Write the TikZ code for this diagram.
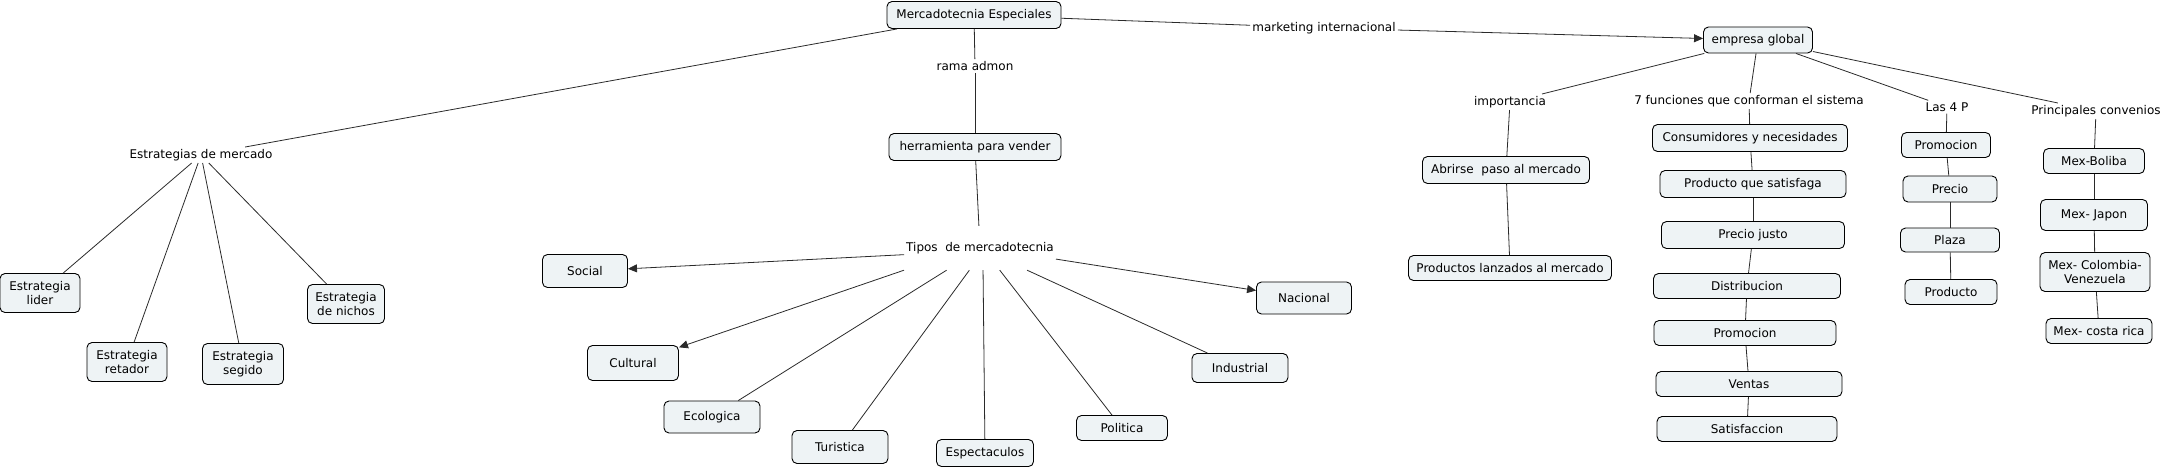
\documentclass[tikz,border=0pt]{standalone}
\usepackage{fontspec}
\setmainfont{DejaVu Sans}
\usetikzlibrary{positioning, calc, shapes, arrows.meta}

\definecolor{cajafondo}{HTML}{EEF3F5}
\definecolor{linea}{HTML}{2A2A2A}

\tikzset{
    concepto/.style={draw=black, fill=cajafondo, rounded corners=5pt, line width=0.9pt,
        inner sep=2pt, align=center, text=black},
    enlace/.style={inner sep=2pt, align=center, text=black},
    rama/.style={draw=linea, line width=0.8pt},
    flecha/.style={draw=linea, line width=0.8pt, -{Triangle[length=9pt,width=8pt]}}
}

\begin{document}
\begin{tikzpicture}[x=1pt, y=-1pt, font=\fontsize{12}{14.3}\selectfont]
    \useasboundingbox (0,0) rectangle (2171,469);

    %% centro
    \node[concepto, minimum width=174pt, minimum height=27pt] (mercEsp) at (974,15) {Mercadotecnia Especiales};

    %% estrategias
    \node[enlace] (estrMerc) at (201,155) {Estrategias de mercado};
    \node[concepto, minimum width=80pt, minimum height=39pt] (lider) at (40,293) {Estrategia\\lider};
    \node[concepto, minimum width=80pt, minimum height=39pt] (retador) at (127,362) {Estrategia\\retador};
    \node[concepto, minimum width=81pt, minimum height=41pt] (segido) at (243,364) {Estrategia\\segido};
    \node[concepto, minimum width=77pt, minimum height=39pt] (nichos) at (346,304) {Estrategia\\de nichos};

    %% tipos
    \node[enlace] (ramaAdmon) at (975,66) {rama admon};
    \node[concepto, minimum width=172pt, minimum height=27pt] (herramienta) at (975,147) {herramienta para vender};
    \node[enlace, minimum width=150pt, minimum height=44pt] (tipos) at (980,248) {Tipos\ \ de mercadotecnia};
    \node[concepto, minimum width=85pt, minimum height=33pt] (social) at (585,271) {Social};
    \node[concepto, minimum width=91pt, minimum height=35pt] (cultural) at (633,363) {Cultural};
    \node[concepto, minimum width=96pt, minimum height=32pt] (ecologica) at (712,417) {Ecologica};
    \node[concepto, minimum width=96pt, minimum height=33pt] (turistica) at (840,447) {Turistica};
    \node[concepto, minimum width=97pt, minimum height=27pt] (espectaculos) at (985,453) {Espectaculos};
    \node[concepto, minimum width=91pt, minimum height=25pt] (politica) at (1122,428) {Politica};
    \node[concepto, minimum width=96pt, minimum height=29pt] (industrial) at (1240,368) {Industrial};
    \node[concepto, minimum width=95pt, minimum height=32pt] (nacional) at (1304,298) {Nacional};

    %% empresa global
    \node[enlace] (markInt) at (1324,28) {marketing internacional};
    \node[concepto, minimum width=109pt, minimum height=26pt] (empresa) at (1758,40) {empresa global};

    \node[enlace] (importancia) at (1510,102) {importancia};
    \node[concepto, minimum width=167pt, minimum height=27pt] (abrirse) at (1506,170) {Abrirse\ \ paso al mercado};
    \node[concepto, minimum width=203pt, minimum height=25pt] (lanzados) at (1510,268) {Productos lanzados al mercado};

    \node[enlace] (funciones) at (1749,101) {7 funciones que conforman el sistema};
    \node[concepto, minimum width=195pt, minimum height=27pt] (consumidores) at (1750,138) {Consumidores y necesidades};
    \node[concepto, minimum width=186pt, minimum height=27pt] (satisfaga) at (1753,184) {Producto que satisfaga};
    \node[concepto, minimum width=183pt, minimum height=27pt] (precioJusto) at (1753,235) {Precio justo};
    \node[concepto, minimum width=187pt, minimum height=25pt] (distribucion) at (1747,286) {Distribucion};
    \node[concepto, minimum width=182pt, minimum height=25pt] (promocion) at (1745,333) {Promocion};
    \node[concepto, minimum width=186pt, minimum height=25pt] (ventas) at (1749,384) {Ventas};
    \node[concepto, minimum width=180pt, minimum height=25pt] (satisfaccion) at (1747,429) {Satisfaccion};

    \node[enlace] (cuatroP) at (1947,107) {Las 4 P};
    \node[concepto, minimum width=89pt, minimum height=25pt] (promoP) at (1946,145) {Promocion};
    \node[concepto, minimum width=94pt, minimum height=26pt] (precioP) at (1950,189) {Precio};
    \node[concepto, minimum width=99pt, minimum height=24pt] (plazaP) at (1950,240) {Plaza};
    \node[concepto, minimum width=92pt, minimum height=25pt] (productoP) at (1951,292) {Producto};

    \node[enlace] (convenios) at (2096,111) {Principales convenios};
    \node[concepto, minimum width=101pt, minimum height=25pt] (boliba) at (2094,161) {Mex-Boliba};
    \node[concepto, minimum width=107pt, minimum height=31pt] (japon) at (2094,215) {Mex- Japon};
    \node[concepto, minimum width=110pt, minimum height=39pt] (colombia) at (2095,272) {Mex- Colombia-\\Venezuela};
    \node[concepto, minimum width=106pt, minimum height=25pt] (costaRica) at (2099,331) {Mex- costa rica};

    %% conexiones
    \draw[rama] (mercEsp) -- (estrMerc);
    \draw[rama] (estrMerc) -- (lider);
    \draw[rama] (estrMerc) -- (retador);
    \draw[rama] (estrMerc) -- (segido);
    \draw[rama] (estrMerc) -- (nichos);

    \draw[rama] (mercEsp) -- (ramaAdmon);
    \draw[rama] (ramaAdmon) -- (herramienta);
    \draw[rama] (herramienta) -- (tipos);
    \draw[flecha] ($(tipos.west)!0.3!(tipos.south west)$) -- (social);
    \draw[flecha] (tipos.south west) -- (cultural);
    \draw[rama] ($(tipos.south west)!0.28!(tipos.south east)$) -- (ecologica);
    \draw[rama] ($(tipos.south west)!0.43!(tipos.south east)$) -- (turistica);
    \draw[rama] ($(tipos.south west)!0.52!(tipos.south east)$) -- (espectaculos);
    \draw[rama] ($(tipos.south west)!0.63!(tipos.south east)$) -- (politica);
    \draw[rama] ($(tipos.south west)!0.81!(tipos.south east)$) -- (industrial);
    \draw[flecha] ($(tipos.east)!0.5!(tipos.south east)$) -- (nacional);

    \draw[rama] (mercEsp) -- (markInt);
    \draw[flecha] (markInt) -- (empresa);

    \draw[rama] (empresa) -- (importancia);
    \draw[rama] (importancia) -- (abrirse);
    \draw[rama] (abrirse) -- (lanzados);

    \draw[rama] (empresa) -- (funciones);
    \draw[rama] (funciones) -- (consumidores);
    \draw[rama] (consumidores) -- (satisfaga);
    \draw[rama] (satisfaga) -- (precioJusto);
    \draw[rama] (precioJusto) -- (distribucion);
    \draw[rama] (distribucion) -- (promocion);
    \draw[rama] (promocion) -- (ventas);
    \draw[rama] (ventas) -- (satisfaccion);

    \draw[rama] (empresa) -- (cuatroP);
    \draw[rama] (cuatroP) -- (promoP);
    \draw[rama] (promoP) -- (precioP);
    \draw[rama] (precioP) -- (plazaP);
    \draw[rama] (plazaP) -- (productoP);

    \draw[rama] (empresa) -- (convenios);
    \draw[rama] (convenios) -- (boliba);
    \draw[rama] (boliba) -- (japon);
    \draw[rama] (japon) -- (colombia);
    \draw[rama] (colombia) -- (costaRica);

\end{tikzpicture}
\end{document}
